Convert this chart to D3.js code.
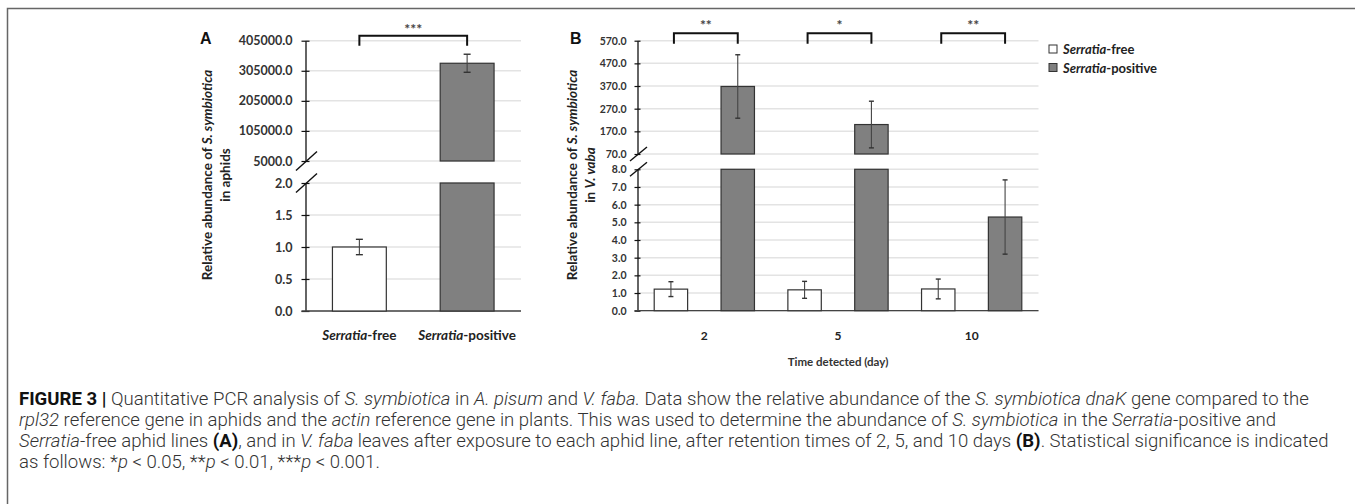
<!DOCTYPE html>
<html>
<head>
<meta charset="utf-8">
<script src="https://cdn.jsdelivr.net/npm/d3@7"></script>
<style>
  body { margin: 0; background: #fff; }
  svg { display: block; font-family: Lato, 'Open Sans', sans-serif; }
</style>
</head>
<body>
<div id="chart"></div>
<script>
// ---- panel A: aphids ----
const categoriesA = ['Serratia-free', 'Serratia-positive'];
const valuesA = [1.0, 330000];
const errorsA = [0.12, 30000];
const lowerTicksA = [0, 0.5, 1.0, 1.5, 2.0];
const upperTicksA = [5000, 105000, 205000, 305000, 405000];
const sigA = ['***'];

// ---- panel B: V. faba leaves ----
const days = ['2', '5', '10'];
const freeB = [1.22, 1.18, 1.23];
const freeErrB = [0.42, 0.48, 0.56];
const positiveB = [368, 200, 5.3];
const positiveErrB = [140, 103, 2.1];
const lowerTicksB = [0, 1, 2, 3, 4, 5, 6, 7, 8];
const upperTicksB = [70, 170, 270, 370, 470, 570];
const sigB = ['**', '*', '**'];

const legendLabels = ['Serratia-free', 'Serratia-positive'];

const W = 1355, H = 504;
const FILL_FREE = '#ffffff', FILL_POS = '#808080';
const fmt = d3.format('.1f');

const svg = d3.select('#chart').append('svg')
    .attr('width', W)
    .attr('height', H);

// frame round the figure
svg.append('path')
    .attr('d', `M7.5,${H} V8.5 H${W}`)
    .attr('fill', 'none')
    .attr('stroke', '#666')
    .attr('stroke-width', 1.5);

function brokenScale(lowerTicks, upperTicks, lowerRange, upperRange) {
    const lower = d3.scaleLinear().domain(d3.extent(lowerTicks)).range(lowerRange);
    const upper = d3.scaleLinear().domain(d3.extent(upperTicks)).range(upperRange);
    const lowerMax = d3.max(lowerTicks);
    return { lower, upper, lowerMax, lowerTicks, upperTicks,
        pick: v => (v > lowerMax ? upper : lower) };
}

function drawAxis(g, ys, x0, x1, opt) {
    // gridlines
    [[ys.lower, ys.lowerTicks], [ys.upper, ys.upperTicks]].forEach(([s, ticks]) => {
        g.append('g').selectAll('line').data(ticks).join('line')
            .attr('x1', x0).attr('x2', x1)
            .attr('y1', d => s(d)).attr('y2', d => s(d))
            .attr('stroke', '#e3e3e3')
            .attr('stroke-width', 1.5);
    });

    [[ys.lower, ys.lowerTicks], [ys.upper, ys.upperTicks]].forEach(([s, ticks]) => {
        const ax = g.append('g')
            .attr('transform', `translate(${x0},0)`)
            .call(d3.axisLeft(s).tickValues(ticks).tickFormat(fmt)
                .tickSizeOuter(0).tickSizeInner(opt.tick).tickPadding(opt.pad));
        ax.select('.domain').attr('stroke', '#111').attr('stroke-width', 1.3);
        ax.selectAll('.tick line').attr('x1', opt.tick).attr('stroke', '#111').attr('stroke-width', 1.2);
        ax.selectAll('.tick text')
            .attr('font-family', 'Lato, sans-serif')
            .attr('font-weight', 700)
            .attr('font-size', opt.fontSize)
            .attr('fill', '#333');
    });

    // break marks
    [ys.upper(d3.min(ys.upperTicks)), ys.lower(ys.lowerMax)].forEach(y => {
        g.append('line')
            .attr('x1', x0 - opt.slash[0] / 2 + 1).attr('y1', y + opt.slash[1] / 2)
            .attr('x2', x0 + opt.slash[0] / 2 + 1).attr('y2', y - opt.slash[1] / 2)
            .attr('stroke', '#111')
            .attr('stroke-width', 1.4);
    });

    // baseline
    g.append('line')
        .attr('x1', x0 - opt.tick).attr('x2', x1)
        .attr('y1', ys.lower(0)).attr('y2', ys.lower(0))
        .attr('stroke', '#444')
        .attr('stroke-width', 1.3);
}

function drawBar(g, ys, x, w, value, err, fill, cap) {
    const rect = (y0, y1) => g.append('rect')
        .attr('x', x).attr('y', y0)
        .attr('width', w).attr('height', y1 - y0)
        .attr('fill', fill)
        .attr('stroke', '#333')
        .attr('stroke-width', 1.2);

    if (value > ys.lowerMax) {
        rect(ys.lower(ys.lowerMax), ys.lower(0));
        rect(ys.upper(value), ys.upper(d3.min(ys.upperTicks)));
    } else {
        rect(ys.lower(value), ys.lower(0));
    }

    const s = ys.pick(value);
    const cx = x + w / 2;
    const yTop = s(value + err), yBot = s(value - err);
    g.append('line').attr('x1', cx).attr('x2', cx).attr('y1', yTop).attr('y2', yBot)
        .attr('stroke', '#444').attr('stroke-width', 1.1);
    [yTop, yBot].forEach(y => g.append('line')
        .attr('x1', cx - cap).attr('x2', cx + cap).attr('y1', y).attr('y2', y)
        .attr('stroke', '#333').attr('stroke-width', 1.4));
}

function drawBracket(g, xa, xb, y, depth, label, labelY, size) {
    g.append('path')
        .attr('d', `M${xa},${y + depth} V${y} H${xb} V${y + depth}`)
        .attr('fill', 'none')
        .attr('stroke', '#111')
        .attr('stroke-width', 2);
    g.append('text')
        .attr('x', (xa + xb) / 2).attr('y', labelY)
        .attr('text-anchor', 'middle')
        .attr('font-size', size)
        .attr('font-weight', 700)
        .attr('fill', '#444')
        .text(label);
}

function serratiaLabel(sel, name) {
    const [genus, rest] = name.split('-');
    sel.append('tspan').attr('font-style', 'italic').text(genus);
    sel.append('tspan').text('-' + rest);
}

function yTitle(g, cx, cy, line1Parts, line2Parts, size, gap) {
    [line1Parts, line2Parts].forEach((parts, i) => {
        const t = g.append('text')
            .attr('transform', `translate(${cx + i * gap},${cy}) rotate(-90)`)
            .attr('text-anchor', 'middle')
            .attr('dominant-baseline', 'central')
            .attr('font-size', size)
            .attr('font-weight', 700)
            .attr('fill', '#222');
        parts.forEach(([txt, it]) => t.append('tspan')
            .attr('font-style', it ? 'italic' : 'normal').text(txt));
    });
}

// ================= Panel A =================
(function panelA() {
    const g = svg.append('g');
    const x0 = 305.5, x1 = 521;
    const ys = brokenScale(lowerTicksA, upperTicksA, [311, 183], [161, 40.7]);
    const x = d3.scaleBand().domain(categoriesA).range([x0, x1])
        .paddingInner(0.5).paddingOuter(0.25);

    drawAxis(g, ys, x0, x1, { tick: 4, pad: 9, fontSize: 12.5, slash: [21, 19] });

    categoriesA.forEach((c, i) => {
        drawBar(g, ys, x(c), x.bandwidth(), valuesA[i], errorsA[i],
            i === 0 ? FILL_FREE : FILL_POS, 3.5);
        g.append('text')
            .attr('x', x(c) + x.bandwidth() / 2).attr('y', 340)
            .attr('text-anchor', 'middle')
            .attr('font-size', 13.5).attr('font-weight', 700).attr('fill', '#222')
            .call(serratiaLabel, c);
    });

    const ca = x(categoriesA[0]) + x.bandwidth() / 2;
    const cb = x(categoriesA[1]) + x.bandwidth() / 2;
    drawBracket(g, ca, cb, 35.7, 10, sigA[0], 34, 14);

    g.append('text').attr('x', 200).attr('y', 44)
        .attr('font-size', 16).attr('font-weight', 700).attr('fill', '#111')
        .attr('font-family', 'Liberation Sans, Arial, sans-serif')
        .text('A');

    yTitle(g, 207, 175,
        [['Relative abundance of ', false], ['S. symbiotica', true]],
        [['in aphids', false]], 13.5, 18);
})();

// ================= Panel B =================
(function panelB() {
    const g = svg.append('g');
    const x0 = 637.5, x1 = 1038.5;
    const ys = brokenScale(lowerTicksB, upperTicksB, [310.7, 169.3], [154, 40.7]);
    const x = d3.scaleBand().domain(days).range([x0, x1]);
    const inner = d3.scaleBand().domain(['free', 'pos']).range([0, x.bandwidth()])
        .paddingInner(0.5).paddingOuter(0.25);

    drawAxis(g, ys, x0, x1, { tick: 3, pad: 8, fontSize: 10.5, slash: [17, 14] });

    days.forEach((d, i) => {
        drawBar(g, ys, x(d) + inner('free'), inner.bandwidth(), freeB[i], freeErrB[i], FILL_FREE, 2.5);
        drawBar(g, ys, x(d) + inner('pos'), inner.bandwidth(), positiveB[i], positiveErrB[i], FILL_POS, 2.5);

        g.append('text')
            .attr('x', x(d) + x.bandwidth() / 2).attr('y', 340)
            .attr('text-anchor', 'middle')
            .attr('font-size', 12).attr('font-weight', 700).attr('fill', '#222')
            .text(d);

        const ca = x(d) + inner('free') + inner.bandwidth() / 2 + 3;
        const cb = x(d) + inner('pos') + inner.bandwidth() / 2;
        drawBracket(g, ca, cb, 33.3, 10.5, sigB[i], 29.5, 14);
    });

    g.append('text')
        .attr('x', x0 + (x1 - x0) / 2).attr('y', 366)
        .attr('text-anchor', 'middle')
        .attr('font-size', 11.5).attr('font-weight', 700).attr('fill', '#333')
        .text('Time detected (day)');

    g.append('text').attr('x', 570).attr('y', 44)
        .attr('font-size', 16).attr('font-weight', 700).attr('fill', '#111')
        .attr('font-family', 'Liberation Sans, Arial, sans-serif')
        .text('B');

    yTitle(g, 572, 175,
        [['Relative abundance of ', false], ['S. symbiotica', true]],
        [['in ', false], ['V. vaba', true]], 13.5, 18);

    // legend
    const legend = g.append('g').attr('transform', 'translate(1049,45)');
    legendLabels.forEach((lab, i) => {
        const row = legend.append('g').attr('transform', `translate(0,${i * 18.5})`);
        row.append('rect').attr('width', 8).attr('height', 8)
            .attr('fill', i === 0 ? FILL_FREE : FILL_POS)
            .attr('stroke', '#333').attr('stroke-width', 1);
        row.append('text').attr('x', 14).attr('y', 4)
            .attr('dominant-baseline', 'central')
            .attr('font-size', 13).attr('font-weight', 700).attr('fill', '#222')
            .call(serratiaLabel, lab);
    });
})();

// ================= Caption =================
const captionLines = [
    [['FIGURE 3 |', 'b'], [' Quantitative PCR analysis of '], ['S. symbiotica', 'i'], [' in '], ['A. pisum', 'i'],
     [' and '], ['V. faba.', 'i'], [' Data show the relative abundance of the '], ['S. symbiotica dnaK', 'i'],
     [' gene compared to the']],
    [['rpl32', 'i'], [' reference gene in aphids and the '], ['actin', 'i'],
     [' reference gene in plants. This was used to determine the abundance of '], ['S. symbiotica', 'i'],
     [' in the '], ['Serratia', 'i'], ['-positive and']],
    [['Serratia', 'i'], ['-free aphid lines '], ['(A)', 'b'], [', and in '], ['V. faba', 'i'],
     [' leaves after exposure to each aphid line, after retention times of 2, 5, and 10 days '], ['(B)', 'b'],
     ['. Statistical significance is indicated']],
    [['as follows: *'], ['p', 'i'], [' < 0.05, **'], ['p', 'i'], [' < 0.01, ***'], ['p', 'i'], [' < 0.001.']]
];

const caption = svg.append('g')
    .attr('font-family', 'Roboto, "Liberation Sans", sans-serif')
    .attr('font-weight', 300)
    .attr('fill', '#333');

const captionTexts = captionLines.map((parts, i) => {
    const t = caption.append('text')
        .attr('x', 19).attr('y', 405 + i * 21)
        .attr('font-size', 15);
    parts.forEach(([txt, st]) => t.append('tspan')
        .attr('font-style', st === 'i' ? 'italic' : 'normal')
        .attr('font-weight', st === 'b' ? 700 : 300)
        .attr('fill', st === 'b' ? '#111' : '#333')
        .text(txt));
    return t;
});
// fit the caption so the first line spans the width seen in the figure
const fitSize = 15 * 1291 / captionTexts[0].node().getComputedTextLength();
captionTexts.forEach(t => t.attr('font-size', fitSize));
</script>
</body>
</html>
